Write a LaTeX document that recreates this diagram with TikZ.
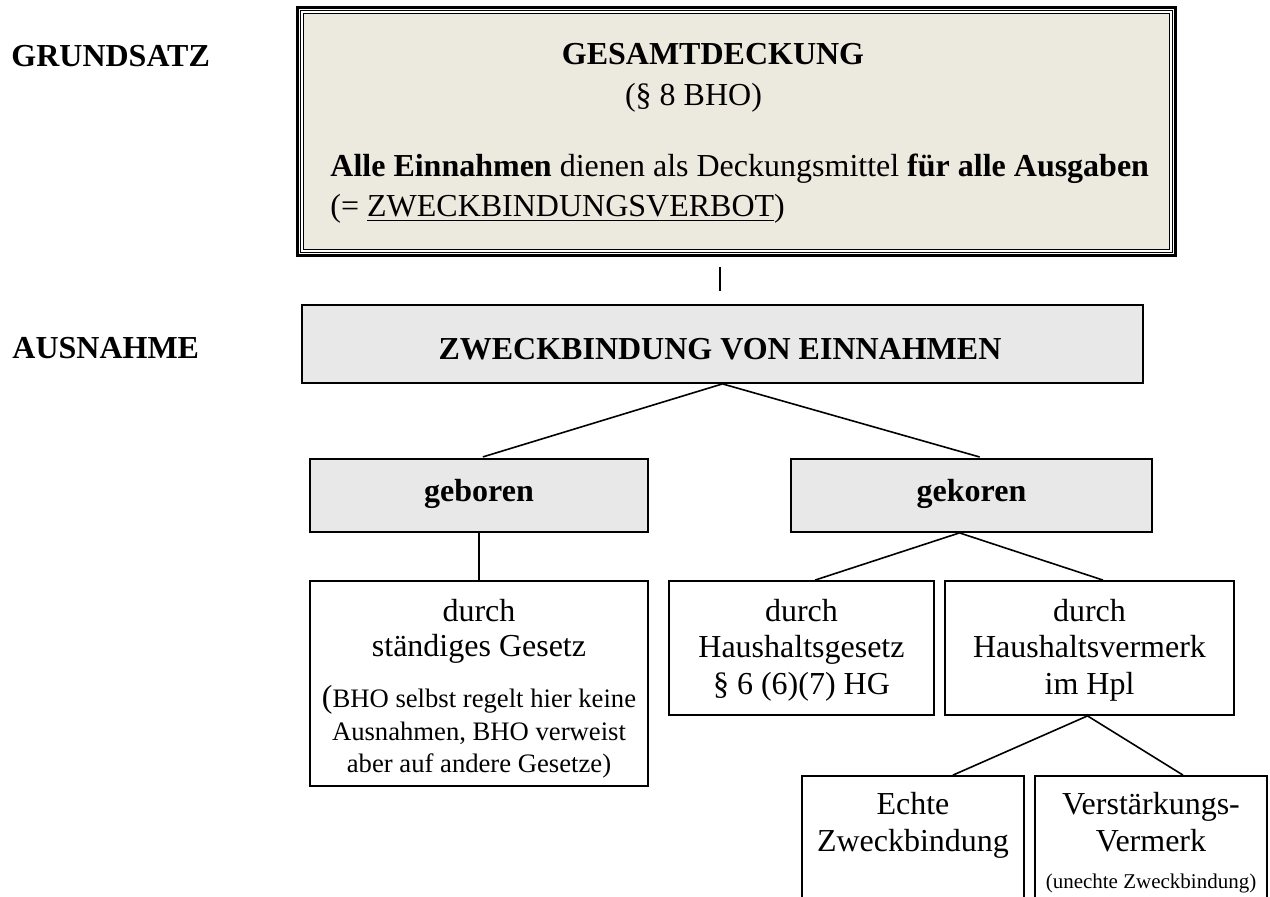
\documentclass[tikz,border=0pt]{standalone}
\usepackage{fontspec}
\setmainfont{Liberation Serif}
\usetikzlibrary{fit,calc}
\definecolor{deckfill}{RGB}{236,233,223}
\definecolor{ausfill}{RGB}{232,232,232}
\tikzset{
  frame/.style={draw, line width=0.9pt, inner sep=0pt, rectangle},
  grayframe/.style={frame, fill=ausfill},
  link/.style={line width=0.8pt},
  bodytxt/.style={anchor=base, inner sep=0pt, font=\fontsize{16}{19}\selectfont},
  boldtxt/.style={bodytxt, font=\fontsize{16}{19}\selectfont\bfseries},
  smalltxt/.style={bodytxt, font=\fontsize{13.33}{16}\selectfont},
  tinytxt/.style={bodytxt, font=\fontsize{10.5}{12}\selectfont},
}
\begin{document}
\begin{tikzpicture}[x=0.5pt, y=-0.5pt]
\useasboundingbox (0,0) rectangle (1270,897);
\fill[white] (0,0) rectangle (1270,897);
\clip (0,0) rectangle (1270,897);

% side labels
\node[boldtxt, anchor=base west] (grund) at (11,67) {GRUNDSATZ};
\node[boldtxt, anchor=base west] (ausn) at (12,359) {AUSNAHME};

% principle box with triple frame
\node[draw, line width=1.5pt, inner sep=0pt, fit={(297.5,7.5) (1175.5,255.5)}] (deck) {};
\node[draw, line width=0.5pt, inner sep=0pt, fit={(300.8,10.8) (1172.2,252.2)}] (deckmid) {};
\node[draw, line width=0.7pt, fill=deckfill, inner sep=0pt, fit={(303.3,13.3) (1169.7,249.7)}] (deckin) {};
\node[boldtxt] (gd) at (713,65) {GESAMTDECKUNG};
\node[bodytxt] (bho) at (693.5,106) {(§ 8 BHO)};
\node[bodytxt, anchor=base west] (alle) at (330,177) {\textbf{Alle Einnahmen} dienen als Deckungsmittel \textbf{für alle Ausgaben}};
\node[bodytxt, anchor=base west] (verbot) at (330,217) {(= \underline{ZWECKBINDUNGSVERBOT})};

% exception
\node[grayframe, fit={(302,305) (1143,383)}] (zweck) {};
\node[boldtxt] (zwecktxt) at (720,360) {ZWECKBINDUNG VON EINNAHMEN};

\node[grayframe, fit={(310,459) (648,532)}] (geb) {};
\node[boldtxt] (gebtxt) at (479,502) {geboren};
\node[grayframe, fit={(791,459) (1152,532)}] (gek) {};
\node[boldtxt] (gektxt) at (971.5,502) {gekoren};

% third level
\node[frame, fit={(310,581) (648,786)}] (staend) {};
\node[bodytxt] (s1) at (479,622) {durch};
\node[bodytxt] (s2) at (479,657) {ständiges Gesetz};
\node[smalltxt] (s3) at (479,708) {{\fontsize{16}{19}\selectfont(}BHO selbst regelt hier keine};
\node[smalltxt] (s4) at (479,741) {Ausnahmen, BHO verweist};
\node[smalltxt] (s5) at (479,773) {aber auf andere Gesetze)};

\node[frame, fit={(669,581) (934,715)}] (hhg) {};
\node[bodytxt] (g1) at (801.5,622) {durch};
\node[bodytxt] (g2) at (801.5,658) {Haushaltsgesetz};
\node[bodytxt] (g3) at (801.5,695) {§ 6 (6)(7) HG};

\node[frame, fit={(945,581) (1234,715)}] (hhv) {};
\node[bodytxt] (v1) at (1089.5,622) {durch};
\node[bodytxt] (v2) at (1089.5,658) {Haushaltsvermerk};
\node[bodytxt] (v3) at (1089.5,695) {im Hpl};

% fourth level
\node[frame, fit={(802,776) (1024,912)}] (echte) {};
\node[bodytxt] (e1) at (913,814) {Echte};
\node[bodytxt] (e2) at (913,852) {Zweckbindung};
\node[frame, fit={(1035,776) (1267,912)}] (verst) {};
\node[bodytxt] (r1) at (1151,814) {Verstärkungs-};
\node[bodytxt] (r2) at (1151,852) {Vermerk};
\node[tinytxt] (r3) at (1151,888) {(unechte Zweckbindung)};

% connectors
\coordinate (tick1) at (720,267);
\coordinate (tick2) at (720,291);
\draw[link] (tick1) -- (tick2);
\draw[link, shorten >=2pt] (zweck.south) -- (geb.north);
\draw[link, shorten >=2pt] (zweck.south) -- ($(gek.north)+(12,0)$);
\draw[link] (geb.south) -- (staend.north);
\draw[link] ($(gek.south)+(-12,0)$) -- ($(hhg.north)+(13.5,0)$);
\draw[link] ($(gek.south)+(-12,0)$) -- ($(hhv.north)+(13.5,0)$);
\draw[link] ($(hhv.south)+(-2,0)$) -- ($(echte.north)+(40,0)$);
\draw[link] ($(hhv.south)+(-2,0)$) -- ($(verst.north)+(32,0)$);
\end{tikzpicture}
\end{document}
